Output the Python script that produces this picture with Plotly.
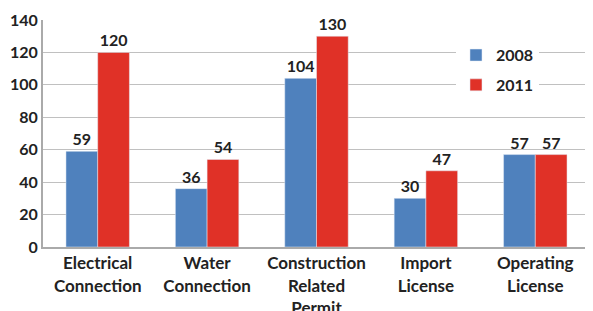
import plotly.graph_objects as go

categories = ["Electrical<br>Connection", "Water<br>Connection", "Construction<br>Related<br>Permit", "Import<br>License", "Operating<br>License"]
v2008 = [59, 36, 104, 30, 57]
v2011 = [120, 54, 130, 47, 57]
ytick_vals = [0, 20, 40, 60, 80, 100, 120, 140]

font_fam = "Lato, Open Sans, sans-serif"
fig = go.Figure()
fig.add_trace(go.Bar(name="2008", x=categories, y=v2008, marker_color="#4F81BD", legendgroup="a",
                     text=v2008, textposition="outside", cliponaxis=False,
                     textfont=dict(size=16, color="#222", family=font_fam)))
fig.add_trace(go.Bar(name="2011", x=categories, y=v2011, marker_color="#E03127", legendgroup="b",
                     text=v2011, textposition="outside", cliponaxis=False,
                     textfont=dict(size=16, color="#222", family=font_fam)))
fig.update_layout(
    width=593, height=311,
    margin=dict(l=35, r=11, t=12, b=72, autoexpand=False),
    barmode="group", bargap=0.42, bargroupgap=0,
    plot_bgcolor="white", paper_bgcolor="white",
    font=dict(family=font_fam, size=16, color="#222"),
    showlegend=True,
    legend=dict(x=0.755, y=0.92, xanchor="left", yanchor="top", bgcolor="white",
                font=dict(size=16, family=font_fam, weight="bold"),
                traceorder="grouped", tracegroupgap=6, itemwidth=30),
    uniformtext=dict(mode=False),
)
fig.update_traces(textfont_weight="bold")
fig.update_xaxes(showline=True, linecolor="#aaa", linewidth=2, ticks="", automargin=False,
                 tickfont=dict(size=17, weight="bold"))
fig.update_yaxes(range=[0, 140], tickvals=ytick_vals, showgrid=True, gridcolor="#c0c0c0",
                 gridwidth=1, showline=True, linecolor="#aaa", linewidth=2, ticks="", automargin=False,
                 tickfont=dict(size=16, weight="bold"), zeroline=False)
fig.write_html("out.html")
